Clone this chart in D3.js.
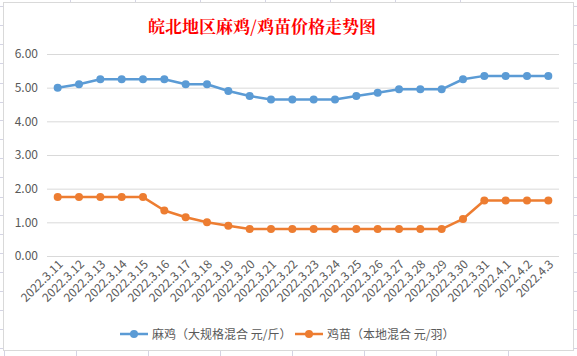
<!DOCTYPE html>
<html><head><meta charset="utf-8">
<script src="https://cdn.jsdelivr.net/npm/d3@7/dist/d3.min.js"></script>
<style>body{margin:0;background:#fff;}svg{display:block;}</style>
</head><body><svg id="c" width="577" height="356"></svg>
<script>
const categories = ["2022.3.11","2022.3.12","2022.3.13","2022.3.14","2022.3.15","2022.3.16","2022.3.17","2022.3.18","2022.3.19","2022.3.20","2022.3.21","2022.3.22","2022.3.23","2022.3.24","2022.3.25","2022.3.26","2022.3.27","2022.3.28","2022.3.29","2022.3.30","2022.3.31","2022.4.1","2022.4.2","2022.4.3"];
const maji = [5.0,5.1,5.25,5.25,5.25,5.25,5.1,5.1,4.9,4.75,4.65,4.65,4.65,4.65,4.75,4.85,4.95,4.95,4.95,5.25,5.35,5.35,5.35,5.35];
const jimiao = [1.75,1.75,1.75,1.75,1.75,1.35,1.15,1.0,0.9,0.8,0.8,0.8,0.8,0.8,0.8,0.8,0.8,0.8,0.8,1.1,1.65,1.65,1.65,1.65];
const seriesNames = ["麻鸡（大规格混合 元/斤）","鸡苗（本地混合 元/羽）"];
const yTicks = [0,1,2,3,4,5,6];
const title = "皖北地区麻鸡/鸡苗价格走势图";
const colors = ["#5b9bd5","#ed7d31"];

const svg = d3.select("#c");
const font = "'Microsoft YaHei','Noto Sans CJK SC','DejaVu Sans',sans-serif";

// spreadsheet background cell lines
const bg = svg.append("g").attr("stroke","#d4d4e4").attr("stroke-width",1);
[6,25,44,63,83,102,120,139,158,177,197,215,234,253,272,291,310,329,348].forEach(yy=>{
  bg.append("line").attr("x1",0).attr("x2",3).attr("y1",yy+0.5).attr("y2",yy+0.5);
  bg.append("line").attr("x1",574).attr("x2",577).attr("y1",yy+0.5).attr("y2",yy+0.5);
});
[4,76,148,220,292,364,436,508].forEach(xx=>{
  bg.append("line").attr("x1",xx+0.5).attr("x2",xx+0.5).attr("y1",351).attr("y2",356);
});
[70,135,200,265,330,395,460].forEach(xx=>{
  bg.append("line").attr("x1",xx+0.5).attr("x2",xx+0.5).attr("y1",0).attr("y2",2);
});

// chart border
svg.append("rect").attr("x",3.5).attr("y",2.5).attr("width",570).attr("height",348)
  .attr("fill","#fff").attr("stroke","#d9d9d9");

const x = d3.scaleBand().domain(categories).range([47,559]);
const y = d3.scaleLinear().domain([0,6]).range([256,54]);

// title
svg.append("text").attr("x",262).attr("y",33).attr("text-anchor","middle")
  .attr("fill","#ff0000").attr("font-size",17).attr("font-weight","bold")
  .attr("font-family","'Noto Serif CJK SC','Noto Sans CJK SC',serif").text(title);

// gridlines
const yAxis = d3.axisLeft(y).tickValues(yTicks).tickSize(-(559-47)).tickFormat(d3.format(".2f"));
const gy = svg.append("g").attr("transform","translate(47,0)").call(yAxis);
gy.select(".domain").remove();
gy.selectAll(".tick line").attr("stroke","#d9d9d9");
gy.selectAll(".tick text").attr("x",-9).attr("fill","#595959").attr("font-size",12).attr("font-family",font);

// x axis labels
const xAxis = d3.axisBottom(x).tickSize(0);
const gx = svg.append("g").attr("transform","translate(0,256)").call(xAxis);
gx.select(".domain").remove();
gx.selectAll(".tick text").attr("fill","#595959").attr("font-size",12).attr("font-family",font)
  .attr("text-anchor","end").attr("dy",0).attr("y",0)
  .attr("transform","translate(6,9) rotate(-45)");

// series
[maji,jimiao].forEach((vals,i)=>{
  const line = d3.line().x((d,j)=>x(categories[j])+x.bandwidth()/2).y(d=>y(d));
  svg.append("path").datum(vals).attr("d",line).attr("fill","none")
    .attr("stroke",colors[i]).attr("stroke-width",2.5).attr("stroke-linejoin","round");
  svg.append("g").selectAll("circle").data(vals).join("circle")
    .attr("cx",(d,j)=>x(categories[j])+x.bandwidth()/2).attr("cy",d=>y(d))
    .attr("r",4).attr("fill",colors[i]);
});

// legend
const legX = [120,295];
seriesNames.forEach((n,i)=>{
  const g = svg.append("g").attr("transform",`translate(${legX[i]},334)`);
  g.append("line").attr("x1",0).attr("x2",28).attr("y1",0).attr("y2",0).attr("stroke",colors[i]).attr("stroke-width",2.5);
  g.append("circle").attr("cx",14).attr("cy",0).attr("r",4).attr("fill",colors[i]);
  g.append("text").attr("x",32).attr("y",4.5).attr("fill","#595959").attr("font-size",12)
    .attr("font-family",font).text(n);
});
</script></body></html>
